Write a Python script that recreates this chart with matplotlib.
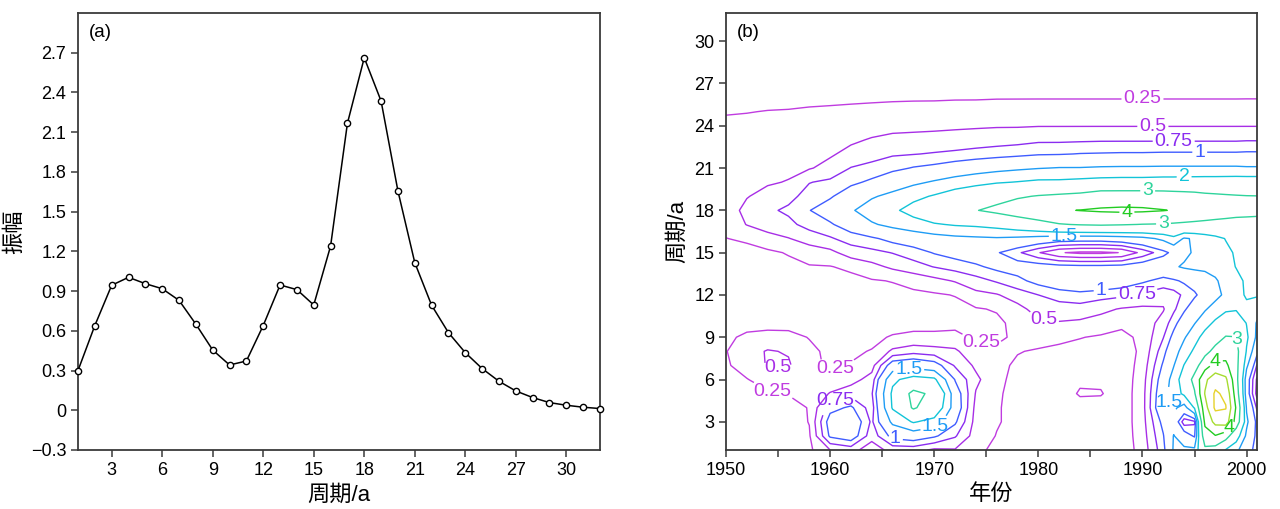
import numpy as np
import matplotlib
matplotlib.use("Agg")
import matplotlib.pyplot as plt
import matplotlib.ticker as ticker

plt.rcParams['font.family'] = ['Liberation Sans', 'Noto Sans CJK SC', 'DejaVu Sans']
plt.rcParams['axes.unicode_minus'] = True

# ---- panel (a): amplitude spectrum ----
period_a = list(range(1, 33))
amplitude = [0.30, 0.64, 0.944, 1.004, 0.956, 0.918, 0.83, 0.65, 0.455, 0.342,
             0.372, 0.64, 0.946, 0.911, 0.795, 1.24, 2.167, 2.662, 2.335, 1.656,
             1.115, 0.793, 0.586, 0.435, 0.315, 0.219, 0.146, 0.096, 0.058, 0.038,
             0.023, 0.013]

# ---- panel (b): wavelet power ----
years = [1950, 1952, 1954, 1956, 1958, 1960, 1962, 1964, 1966, 1968, 1970,
         1972, 1974, 1976, 1978, 1980, 1982, 1984, 1986, 1988, 1990, 1992,
         1993, 1994, 1995, 1996, 1997, 1998, 1999, 2000, 2001]
periods = list(range(1, 27)) + [28, 32]
# one row per year, values at the periods above
power = [
    [0.05, 0.06, 0.08, 0.10, 0.13, 0.18, 0.22, 0.24, 0.20, 0.12, 0.10, 0.10, 0.12, 0.15, 0.20,
     0.245, 0.33, 0.41, 0.42, 0.41, 0.39, 0.36, 0.32, 0.28, 0.24, 0.19, 0.11, 0.03],
    [0.05, 0.06, 0.08, 0.12, 0.18, 0.24, 0.35, 0.40, 0.30, 0.16, 0.11, 0.10, 0.11, 0.13, 0.17,
     0.29, 0.51, 0.55, 0.49, 0.46, 0.43, 0.39, 0.34, 0.29, 0.245, 0.19, 0.11, 0.03],
    [0.05, 0.07, 0.10, 0.15, 0.22, 0.35, 0.52, 0.52, 0.33, 0.17, 0.12, 0.11, 0.12, 0.16, 0.20,
     0.42, 0.60, 0.70, 0.56, 0.48, 0.44, 0.40, 0.35, 0.30, 0.255, 0.20, 0.11, 0.03],
    [0.06, 0.08, 0.12, 0.18, 0.26, 0.38, 0.53, 0.48, 0.32, 0.17, 0.12, 0.11, 0.13, 0.18, 0.27,
     0.49, 0.68, 0.80, 0.67, 0.51, 0.46, 0.42, 0.37, 0.31, 0.26, 0.20, 0.11, 0.03],
    [0.20, 0.22, 0.26, 0.26, 0.28, 0.30, 0.30, 0.30, 0.24, 0.16, 0.12, 0.11, 0.15, 0.23, 0.38,
     0.60, 0.85, 0.99, 0.85, 0.74, 0.48, 0.43, 0.38, 0.33, 0.27, 0.21, 0.11, 0.03],
    [0.50, 1.05, 1.15, 0.90, 0.52, 0.30, 0.22, 0.20, 0.17, 0.13, 0.11, 0.12, 0.17, 0.24, 0.43,
     0.72, 0.96, 1.18, 0.96, 0.80, 0.58, 0.47, 0.41, 0.35, 0.28, 0.21, 0.11, 0.03],
    [0.60, 1.20, 1.30, 1.05, 0.65, 0.40, 0.26, 0.22, 0.18, 0.14, 0.12, 0.13, 0.18, 0.30, 0.62,
     0.86, 1.18, 1.45, 1.20, 0.93, 0.76, 0.57, 0.46, 0.37, 0.29, 0.215, 0.11, 0.03],
    [0.35, 0.60, 0.70, 0.62, 0.72, 0.60, 0.40, 0.26, 0.20, 0.15, 0.13, 0.17, 0.23, 0.42, 0.68,
     0.95, 1.45, 1.72, 1.45, 1.06, 0.82, 0.66, 0.52, 0.40, 0.30, 0.22, 0.12, 0.03],
    [0.60, 1.10, 1.60, 2.05, 2.10, 1.90, 1.20, 0.55, 0.27, 0.16, 0.12, 0.18, 0.26, 0.55, 0.76,
     1.10, 1.62, 1.90, 1.62, 1.25, 0.92, 0.72, 0.56, 0.43, 0.31, 0.225, 0.12, 0.03],
    [0.60, 1.20, 2.05, 3.10, 3.25, 2.20, 1.30, 0.65, 0.30, 0.18, 0.13, 0.20, 0.33, 0.65, 0.87,
     1.20, 1.78, 2.20, 1.86, 1.40, 1.02, 0.74, 0.57, 0.44, 0.31, 0.23, 0.12, 0.03],
    [0.45, 1.05, 1.80, 2.50, 2.80, 2.10, 1.15, 0.60, 0.30, 0.18, 0.15, 0.22, 0.42, 0.76, 1.02,
     1.30, 1.95, 2.50, 2.05, 1.55, 1.08, 0.77, 0.58, 0.45, 0.315, 0.23, 0.12, 0.03],
    [0.48, 0.78, 1.05, 1.25, 1.20, 0.98, 0.72, 0.55, 0.30, 0.20, 0.18, 0.26, 0.52, 0.85, 1.12,
     1.38, 2.05, 2.78, 2.30, 1.70, 1.18, 0.80, 0.60, 0.46, 0.32, 0.235, 0.12, 0.03],
    [0.30, 0.38, 0.40, 0.42, 0.48, 0.56, 0.45, 0.30, 0.22, 0.14, 0.23, 0.43, 0.65, 0.95, 1.20,
     1.42, 2.10, 2.97, 2.50, 1.83, 1.27, 0.84, 0.62, 0.47, 0.325, 0.235, 0.12, 0.03],
    [0.20, 0.24, 0.27, 0.27, 0.28, 0.30, 0.30, 0.28, 0.22, 0.20, 0.27, 0.48, 0.78, 1.08, 1.03,
     1.45, 2.20, 3.20, 2.70, 1.95, 1.35, 0.88, 0.64, 0.48, 0.33, 0.24, 0.12, 0.03],
    [0.15, 0.17, 0.18, 0.18, 0.18, 0.19, 0.22, 0.26, 0.28, 0.32, 0.42, 0.62, 0.92, 1.15, 0.80,
     1.40, 2.40, 3.50, 2.90, 2.02, 1.42, 0.92, 0.66, 0.48, 0.335, 0.24, 0.125, 0.035],
    [0.10, 0.10, 0.10, 0.10, 0.11, 0.12, 0.16, 0.23, 0.33, 0.45, 0.60, 0.75, 1.10, 1.15, 0.52,
     1.30, 2.65, 3.78, 3.05, 2.10, 1.48, 0.97, 0.70, 0.49, 0.34, 0.24, 0.125, 0.035],
    [0.08, 0.08, 0.08, 0.09, 0.10, 0.12, 0.14, 0.20, 0.30, 0.48, 0.64, 0.85, 1.25, 1.10, 0.27,
     1.20, 2.95, 3.92, 3.15, 2.10, 1.52, 0.98, 0.70, 0.49, 0.34, 0.24, 0.125, 0.035],
    [0.08, 0.08, 0.09, 0.14, 0.28, 0.20, 0.15, 0.17, 0.26, 0.45, 0.65, 0.90, 1.35, 1.08, 0.20,
     1.18, 3.05, 4.02, 3.25, 2.15, 1.52, 1.01, 0.71, 0.49, 0.34, 0.24, 0.125, 0.035],
    [0.09, 0.09, 0.10, 0.14, 0.27, 0.20, 0.13, 0.15, 0.22, 0.40, 0.56, 0.85, 1.30, 1.08, 0.20,
     1.18, 3.10, 4.10, 3.50, 2.20, 1.55, 1.02, 0.72, 0.49, 0.34, 0.24, 0.125, 0.035],
    [0.10, 0.10, 0.10, 0.10, 0.10, 0.10, 0.11, 0.13, 0.19, 0.30, 0.48, 0.80, 1.20, 1.10, 0.26,
     1.25, 3.05, 4.15, 3.50, 2.22, 1.56, 1.03, 0.72, 0.49, 0.34, 0.24, 0.125, 0.035],
    [0.35, 0.38, 0.40, 0.40, 0.40, 0.38, 0.34, 0.30, 0.30, 0.35, 0.45, 0.70, 1.05, 1.20, 0.58,
     1.35, 2.98, 4.12, 3.50, 2.22, 1.56, 1.03, 0.72, 0.49, 0.34, 0.24, 0.125, 0.035],
    [0.90, 0.98, 1.10, 1.35, 1.30, 1.20, 1.05, 0.90, 0.74, 0.60, 0.48, 0.60, 0.90, 1.30, 0.90,
     1.60, 2.95, 4.03, 3.45, 2.25, 1.57, 1.04, 0.72, 0.49, 0.34, 0.24, 0.125, 0.035],
    [1.55, 1.52, 1.30, 1.60, 1.75, 1.70, 1.48, 1.30, 1.10, 0.90, 0.70, 0.65, 0.95, 1.45, 1.10,
     1.85, 2.90, 3.95, 3.40, 2.25, 1.57, 1.04, 0.72, 0.49, 0.34, 0.24, 0.125, 0.035],
    [1.60, 1.20, 0.60, 1.30, 2.10, 2.30, 2.02, 1.70, 1.45, 1.20, 0.95, 0.80, 1.05, 1.55, 1.40,
     1.45, 2.85, 3.85, 3.35, 2.27, 1.57, 1.04, 0.72, 0.49, 0.34, 0.24, 0.125, 0.035],
    [1.60, 0.95, 0.70, 2.05, 2.90, 3.30, 2.60, 2.10, 1.80, 1.48, 1.20, 0.95, 1.15, 1.60, 1.55,
     1.55, 2.80, 3.75, 3.30, 2.27, 1.57, 1.04, 0.72, 0.49, 0.34, 0.24, 0.125, 0.035],
    [2.80, 3.60, 4.20, 4.60, 5.05, 4.80, 3.60, 2.70, 2.20, 1.80, 1.45, 1.15, 1.30, 1.60, 1.65,
     1.70, 2.75, 3.65, 3.20, 2.28, 1.57, 1.04, 0.72, 0.49, 0.34, 0.24, 0.125, 0.035],
    [2.60, 3.95, 5.30, 6.20, 6.15, 5.60, 4.30, 3.30, 2.60, 2.10, 1.70, 1.35, 1.45, 1.65, 1.75,
     1.85, 2.70, 3.55, 3.15, 2.28, 1.57, 1.04, 0.72, 0.49, 0.34, 0.24, 0.125, 0.035],
    [1.95, 3.40, 5.50, 6.05, 5.80, 5.20, 4.20, 3.60, 3.05, 2.40, 1.90, 1.60, 1.65, 1.80, 1.90,
     2.02, 2.65, 3.48, 3.10, 2.29, 1.57, 1.04, 0.72, 0.49, 0.34, 0.24, 0.125, 0.035],
    [1.60, 2.30, 3.60, 3.90, 3.50, 3.30, 3.30, 3.30, 3.02, 2.40, 1.95, 1.85, 1.85, 2.02, 2.05,
     2.10, 2.60, 3.40, 3.06, 2.30, 1.57, 1.04, 0.72, 0.49, 0.34, 0.24, 0.125, 0.035],
    [1.20, 1.40, 1.60, 1.45, 1.20, 1.20, 1.60, 1.95, 2.10, 1.98, 1.90, 2.05, 2.08, 2.10, 2.15,
     2.20, 2.60, 3.35, 3.03, 2.30, 1.55, 1.05, 0.73, 0.49, 0.35, 0.24, 0.13, 0.04],
    [0.85, 0.90, 0.90, 0.70, 0.40, 0.45, 0.72, 1.10, 1.40, 1.45, 1.70, 2.05, 2.10, 2.15, 2.20,
     2.25, 2.60, 3.30, 3.02, 2.30, 1.55, 1.05, 0.73, 0.49, 0.35, 0.24, 0.13, 0.05],
]
levels = [0.25, 0.5, 0.75, 1, 1.5, 2, 3, 4, 5, 6]
level_colors = ['#c03ce0', '#a82ee6', '#8a2cf0', '#3f5cff', '#1e9cf5',
                '#12c4d8', '#2ed49c', '#22cc22', '#a6dc30', '#e6d22a']

# where the contour labels sit (year, period), as in the original figure
label_spots = [(1990, 25.8), (1991, 24.0), (1993, 22.9), (1995.5, 22.2),
               (1994, 20.5), (1990.5, 19.4), (1992, 17.3), (1988.5, 18.0),
               (1982.5, 16.2), (1986, 12.5), (1989.5, 11.9), (1980.5, 10.3),
               (1974.5, 8.6), (1955, 7.3), (1954.5, 5.2), (1960.7, 6.3),
               (1960.5, 4.6), (1967.5, 7.0), (1970, 2.8), (1966.3, 2.0),
               (1997, 7.3), (1999, 8.8), (1998.3, 2.6), (1992.8, 4.4)]

fig = plt.figure(figsize=(12.8, 5.09), dpi=100)
ax1 = fig.add_axes([78 / 1280, 59 / 509, 522 / 1280, 437 / 509])
ax2 = fig.add_axes([726 / 1280, 59 / 509, 531 / 1280, 437 / 509])

ax1.plot(period_a, amplitude, color='black', linewidth=1.1, marker='o',
         markersize=4.5, markerfacecolor='white', markeredgecolor='black',
         markeredgewidth=1.0, clip_on=False, zorder=3)
ax1.set_xlim(1, 32)
ax1.set_ylim(-0.3, 3.0)
ax1.set_xticks(range(3, 31, 3))
ax1.set_yticks(np.arange(-0.3, 2.71, 0.3))
ax1.yaxis.set_major_formatter(ticker.FuncFormatter(
    lambda v, pos: '0' if abs(v) < 1e-9 else f'{v:.1f}'.replace('-', '\u2212')))
ax1.set_xlabel('周期/a', fontsize=16, labelpad=4)
ax1.set_ylabel('振幅', fontsize=16, labelpad=4)
ax1.text(0.02, 0.975, '(a)', transform=ax1.transAxes, fontsize=13.5, va='top')

Z = np.array(power).T
cs = ax2.contour(years, periods, Z, levels=levels, colors=level_colors,
                 linewidths=1.0)
texts = ax2.clabel(cs, inline=True, inline_spacing=2, fontsize=14,
                   fmt=lambda v: f'{v:g}', manual=label_spots)
for t in texts:
    t.set_rotation(0)
ax2.set_xlim(1950, 2001)
ax2.set_ylim(1, 32)
ax2.set_xticks(range(1950, 2001, 10))
ax2.xaxis.set_minor_locator(ticker.MultipleLocator(5))
ax2.set_yticks(range(3, 31, 3))
ax2.set_xlabel('年份', fontsize=16, labelpad=4)
ax2.set_ylabel('周期/a', fontsize=16, labelpad=4)
ax2.text(0.02, 0.975, '(b)', transform=ax2.transAxes, fontsize=13.5, va='top')

for ax in (ax1, ax2):
    for sp in ax.spines.values():
        sp.set_color('#3a3a3a')
        sp.set_linewidth(1.3)
    ax.tick_params(which='major', direction='out', length=5, width=1.1,
                   color='#3a3a3a', labelsize=13)
    ax.tick_params(which='minor', direction='out', length=5, width=1.1,
                   color='#3a3a3a')

fig.savefig('out.png', dpi=100)
